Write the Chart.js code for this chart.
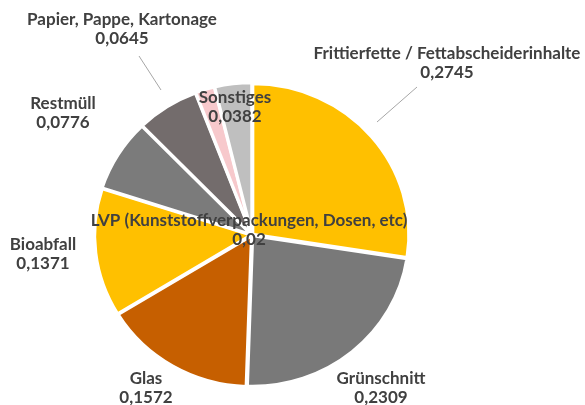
<!DOCTYPE html>
<html>
<head>
<meta charset="utf-8">
<script src="https://cdn.jsdelivr.net/npm/chart.js@4.4.1/dist/chart.umd.min.js"></script>
<style>
  html, body { margin: 0; padding: 0; background: #ffffff; }
  #wrap { width: 585px; height: 405px; position: relative; }
</style>
</head>
<body>
<div id="wrap"><canvas id="c" width="585" height="405"></canvas></div>
<script>
// ---- data ----
const categories = [
  "Frittierfette / Fettabscheiderinhalte",
  "Grünschnitt",
  "Glas",
  "Bioabfall",
  "Restmüll",
  "Papier, Pappe, Kartonage",
  "LVP (Kunststoffverpackungen, Dosen, etc)",
  "Sonstiges"
];
const values = [0.2745, 0.2309, 0.1572, 0.1371, 0.0776, 0.0645, 0.02, 0.0382];
const sliceColors = ["#FFC000", "#797979", "#C65F00", "#FFC000", "#7B7B7B", "#736C6C", "#F7C9CC", "#BFBFBF"];

// label placement relative to pie centre (title line centre), plus optional leader lines
const labelLayout = [
  { dx: 195, dy: -181, line: [165, -148, 125, -113] },
  { dx: 129, dy: 144 },
  { dx: -106, dy: 144 },
  { dx: -209, dy: 10 },
  { dx: -189, dy: -131 },
  { dx: -130, dy: -215, line: [-113, -179, -91, -145] },
  { dx: -3, dy: -14 },
  { dx: -17, dy: -137 }
];
const pieStretchX = 1.037;

const labelPlugin = {
  id: 'excelLabels',
  beforeDatasetsDraw(chart) {
    const ctx = chart.ctx;
    const arc0 = chart.getDatasetMeta(0).data[0];
    ctx.save();
    ctx.translate(arc0.x, 0);
    ctx.scale(pieStretchX, 1);
    ctx.translate(-arc0.x, 0);
  },
  afterDatasetsDraw(chart) {
    const ctx = chart.ctx;
    ctx.restore();
    const meta = chart.getDatasetMeta(0);
    const arc0 = meta.data[0];
    const cx = arc0.x, cy = arc0.y;
    ctx.save();
    ctx.strokeStyle = '#A6A6A6';
    ctx.lineWidth = 1;
    labelLayout.forEach((l) => {
      if (l.line) {
        ctx.beginPath();
        ctx.moveTo(cx + l.line[0], cy + l.line[1]);
        ctx.lineTo(cx + l.line[2], cy + l.line[3]);
        ctx.stroke();
      }
    });
    ctx.fillStyle = '#404040';
    ctx.font = 'bold 17px Lato, "Open Sans", sans-serif';
    ctx.textAlign = 'center';
    ctx.textBaseline = 'middle';
    chart.data.labels.forEach((lab, i) => {
      const l = labelLayout[i];
      const v = chart.data.datasets[0].data[i];
      const x = cx + l.dx, y = cy + l.dy;
      ctx.fillText(lab, x, y);
      ctx.fillText(String(v).replace('.', ','), x, y + 18.5);
    });
    ctx.restore();
  }
};

new Chart(document.getElementById('c'), {
  type: 'pie',
  data: {
    labels: categories,
    datasets: [{
      data: values,
      backgroundColor: sliceColors,
      borderColor: '#FFFFFF',
      borderWidth: 3,
      offset: 4,
      hoverOffset: 0
    }]
  },
  options: {
    responsive: false,
    animation: false,
    radius: 150.5,
    layout: { padding: { left: 0, right: 81, top: 65, bottom: 0 } },
    plugins: {
      legend: { display: false },
      tooltip: { enabled: false }
    },
    events: []
  },
  plugins: [labelPlugin]
});
</script>
</body>
</html>
